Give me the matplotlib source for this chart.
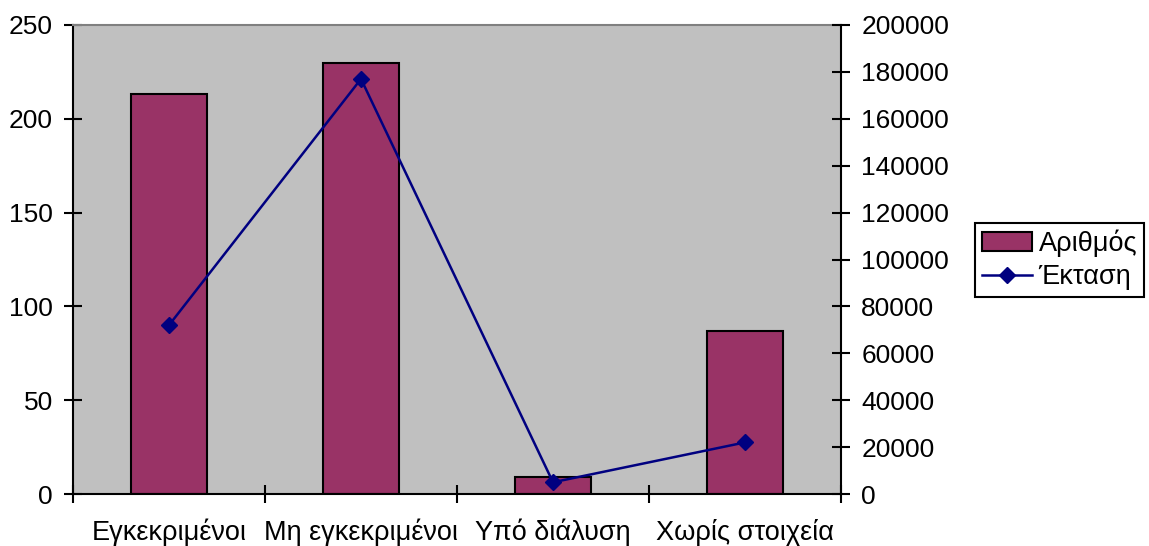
import matplotlib
matplotlib.use("Agg")
import matplotlib.pyplot as plt
from matplotlib.patches import Patch
from matplotlib.lines import Line2D
import numpy as np

categories = ["Εγκεκριμένοι", "Μη εγκεκριμένοι", "Υπό διάλυση", "Χωρίς στοιχεία"]
count_values = [213, 230, 9, 87]
area_values = [72000, 177000, 5000, 22000]
left_ticks = [0, 50, 100, 150, 200, 250]
right_ticks = [0, 20000, 40000, 60000, 80000, 100000, 120000, 140000, 160000, 180000, 200000]

plt.rcParams["font.family"] = ["Liberation Sans", "DejaVu Sans"]
plt.rcParams["font.size"] = 19

bar_color = "#993366"
line_color = "#000080"
plot_bg = "#C0C0C0"

fig = plt.figure(figsize=(11.49, 5.46), dpi=100)
ax = fig.add_axes([73 / 1149, 52 / 546, (841 - 73) / 1149, (494 - 25) / 546])
ax.set_facecolor(plot_bg)

x = np.arange(len(categories))
ax.bar(x, count_values, width=0.4, color=bar_color, edgecolor="black", linewidth=1.5, zorder=2)
ax.set_xlim(-0.5, len(categories) - 0.5)
ax.set_ylim(0, 250)
ax.set_yticks(left_ticks)

# category ticks sit between groups, labels centred under each group
ax.set_xticks(np.arange(len(categories) + 1) - 0.5)
ax.set_xticklabels([])
ax.set_xticks(x, minor=True)
ax.set_xticklabels(categories, minor=True, fontsize=19.5)
ax.tick_params(axis="x", which="minor", length=0, pad=18)
ax.tick_params(axis="x", which="major", direction="inout", length=13, width=1.5, color="black")
ax.tick_params(axis="y", direction="inout", length=13, width=1.5, pad=8)

for side in ["left", "bottom"]:
    ax.spines[side].set_linewidth(1.5)
    ax.spines[side].set_color("black")
ax.spines["top"].set_color("#808080")
ax.spines["top"].set_linewidth(1.5)
ax.spines["right"].set_visible(False)

ax2 = ax.twinx()
ax2.plot(x, area_values, color=line_color, linewidth=1.8, marker="D", markersize=8,
         markerfacecolor=line_color, markeredgecolor=line_color, zorder=3)
ax2.set_ylim(0, 200000)
ax2.set_yticks(right_ticks)
ax2.tick_params(axis="y", direction="inout", length=13, width=1.5, pad=8)
for side in ["left", "top", "bottom"]:
    ax2.spines[side].set_visible(False)
ax2.spines["right"].set_linewidth(1.5)
ax2.spines["right"].set_color("black")

handles = [
    Patch(facecolor=bar_color, edgecolor="black", linewidth=1.5),
    Line2D([0], [0], color=line_color, linewidth=1.8, marker="D", markersize=8,
           markerfacecolor=line_color, markeredgecolor=line_color),
]
leg = fig.legend(handles, ["Αριθμός", "Έκταση"], loc="center left",
                 bbox_to_anchor=(975 / 1149, 1 - 260 / 546), frameon=True, fancybox=False,
                 edgecolor="black", framealpha=1, borderpad=0.25, handlelength=1.85,
                 handletextpad=0.25, labelspacing=0.25, borderaxespad=0, fontsize=19.5)
leg.get_frame().set_linewidth(1.5)

fig.savefig("out.png", dpi=100)
